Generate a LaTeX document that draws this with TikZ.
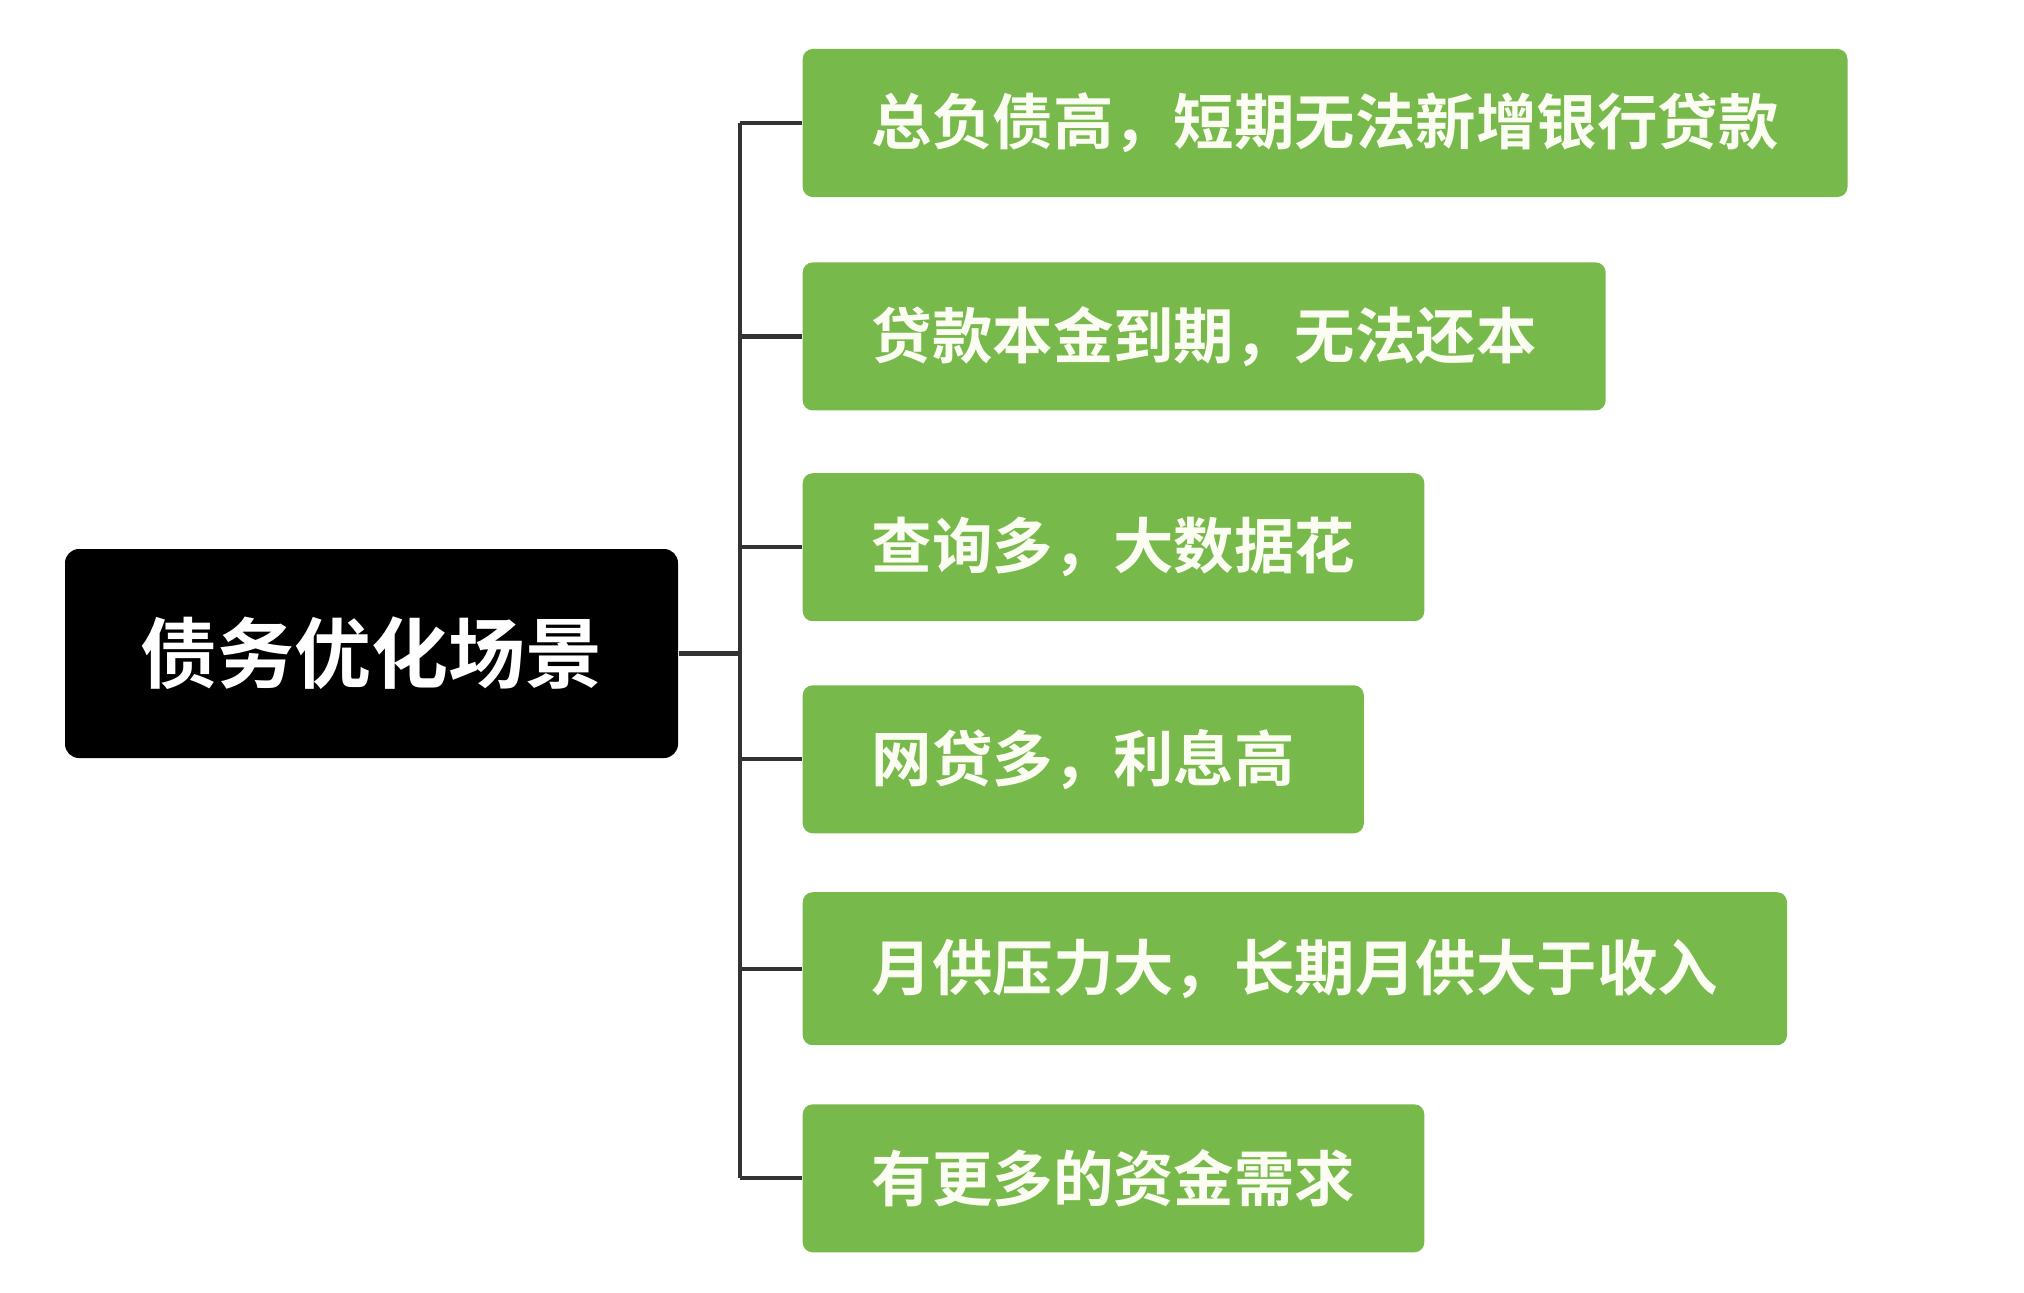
\documentclass[tikz,border=0pt]{standalone}
\usepackage{fontspec}
\newfontfamily\cjk{Noto Sans CJK SC}[BoldFont={Noto Sans CJK SC Bold}]
\usetikzlibrary{positioning}
\definecolor{leaf}{HTML}{78B94B}
\definecolor{graphite}{HTML}{333333}
\definecolor{cream}{HTML}{FBFDF2}

\begin{document}
\begin{tikzpicture}[
      root/.style={fill=black,rectangle,rounded corners=0.14cm,minimum width=6.13cm,minimum height=2.09cm,
        text=white,font=\cjk\bfseries\fontsize{21.9pt}{24pt}\selectfont},
      gbox/.style={fill=leaf,rectangle,rounded corners=0.1cm,minimum height=1.48cm,inner xsep=0.69cm,
        text=cream,font=\cjk\bfseries\fontsize{17.2pt}{20pt}\selectfont},
      link/.style={graphite,line width=1.2pt}]
      \useasboundingbox (0,0) rectangle (20.24,12.92);
      \node[root] (scene) at (3.715,6.385) {债务优化场景};
      \coordinate (trunk) at (7.40,6.385);
      \node[gbox,anchor=west] (s1) at (8.02,11.69) {总负债高，短期无法新增银行贷款};
      \node[gbox,below=0.64cm of s1.south west,anchor=north west] (s2) {贷款本金到期，无法还本};
      \node[gbox,below=0.614cm of s2.south west,anchor=north west] (s3) {查询多，大数据花};
      \node[gbox,below=0.627cm of s3.south west,anchor=north west] (s4) {网贷多，利息高};
      \node[gbox,below=0.575cm of s4.south west,anchor=north west,minimum height=1.53cm] (s5) {月供压力大，长期月供大于收入};
      \node[gbox,below=0.577cm of s5.south west,anchor=north west] (s6) {有更多的资金需求};
      \draw[link] (scene) -- (trunk);
      \draw[link] (trunk |- s1) -- (trunk |- s6);
      \foreach \i in {1,...,6}
        \draw[link] (trunk |- s\i) -- (s\i);
    \end{tikzpicture}
\end{document}
